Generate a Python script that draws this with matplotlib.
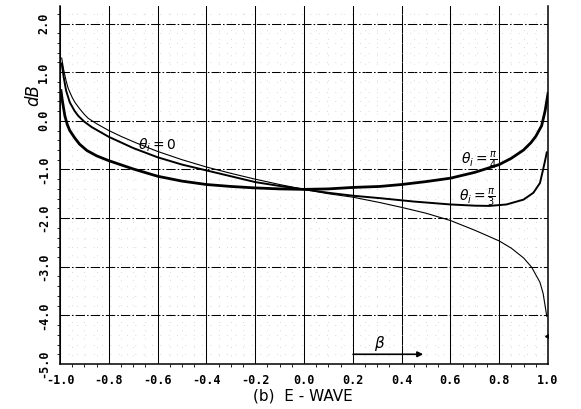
import matplotlib.pyplot as plt
from matplotlib.ticker import MultipleLocator

# beta values and dB values
a_x = [-0.993, -0.985, -0.975, -0.966, -0.95, -0.939, -0.92, -0.9, -0.884, -0.85, -0.8,
       -0.75, -0.69, -0.6, -0.5, -0.4, -0.3, -0.2, -0.1, 0.0, 0.1, 0.2, 0.31, 0.4,
       0.5, 0.6, 0.7, 0.8, 0.85, 0.9, 0.933, 0.967, 0.98, 0.988, 0.995]
a_y = [1.29, 1.05, 0.82, 0.66, 0.48, 0.38, 0.25, 0.13, 0.05, -0.06, -0.2,
       -0.32, -0.45, -0.63, -0.8, -0.95, -1.08, -1.2, -1.31, -1.41, -1.5, -1.57, -1.68, -1.78,
       -1.9, -2.05, -2.25, -2.47, -2.62, -2.82, -3.01, -3.32, -3.55, -3.8, -4.02]

b_x = [-0.993, -0.985, -0.975, -0.96, -0.94, -0.925, -0.9, -0.87, -0.8, -0.7, -0.6,
       -0.5, -0.4, -0.3, -0.2, -0.1, 0.0, 0.1, 0.2, 0.31, 0.45, 0.6, 0.7, 0.76, 0.83,
       0.9, 0.94, 0.967, 0.98, 0.988, 0.995]
b_y = [1.18, 0.9, 0.62, 0.38, 0.2, 0.1, -0.02, -0.13, -0.33, -0.56, -0.75,
       -0.9, -1.02, -1.14, -1.26, -1.34, -1.41, -1.48, -1.54, -1.59, -1.66, -1.72, -1.745, -1.75, -1.72,
       -1.62, -1.48, -1.28, -1.0, -0.82, -0.65]

c_x = [-0.996, -0.99, -0.98, -0.97, -0.96, -0.94, -0.92, -0.89, -0.85, -0.8, -0.7,
       -0.6, -0.5, -0.4, -0.3, -0.2, -0.1, 0.0, 0.1, 0.2, 0.31, 0.4, 0.5, 0.6, 0.7,
       0.8, 0.85, 0.9, 0.93, 0.95, 0.974, 0.988, 1.0]
c_y = [0.62, 0.4, 0.1, -0.08, -0.2, -0.35, -0.48, -0.61, -0.72, -0.82, -0.99,
       -1.14, -1.24, -1.31, -1.35, -1.38, -1.40, -1.41, -1.40, -1.37, -1.35, -1.31, -1.25, -1.18, -1.06,
       -0.9, -0.77, -0.6, -0.45, -0.32, -0.1, 0.2, 0.56]

x_ticks = [-1.0, -0.8, -0.6, -0.4, -0.2, 0.0, 0.2, 0.4, 0.6, 0.8, 1.0]
x_labels = ["-1.0", "-0.8", "-0.6", "-0.4", "-0.2", "0.0", "0.2", "0.4", "0.6", "0.8", "1.0"]
y_ticks = [-5.0, -4.0, -3.0, -2.0, -1.0, 0.0, 1.0, 2.0]
y_labels = ["-5.0", "-4.0", "-3.0", "-2.0", "-1.0", "0.0", "1.0", "2.0"]

mark_x = [1.0]
mark_y = [-4.43]

fig = plt.figure(figsize=(5.81, 4.09), dpi=100)
ax = fig.add_axes([60/581, 1-364/409, 488/581, 358/409])

ax.set_xlim(-1.0, 1.0)
ax.set_ylim(-5.0, 2.36)

# grids: solid verticals, dash-dot horizontals, sparse dots for minor
ax.xaxis.set_minor_locator(MultipleLocator(0.05))
ax.yaxis.set_minor_locator(MultipleLocator(0.2))
ax.grid(which="minor", color="0.7", linestyle=(0, (1, 11)), lw=0.5)
for xv in x_ticks:
    ax.axvline(xv, color="black", lw=0.75, zorder=1)
for yv in y_ticks:
    ax.axhline(yv, color="black", lw=0.75, linestyle=(0, (9, 2, 1.5, 2)), zorder=1)

ax.plot(a_x, a_y, color="black", lw=0.8, zorder=3)
ax.plot(b_x, b_y, color="black", lw=1.4, zorder=3)
ax.plot(c_x, c_y, color="black", lw=2.0, zorder=3)
ax.plot(mark_x, mark_y, "<", color="black", ms=4, zorder=4)

ax.text(-0.60, -0.50, r"$\theta_i = 0$", fontsize=10, ha="center", va="center")
ax.text(0.72, -0.80, r"$\theta_i = \frac{\pi}{4}$", fontsize=10, ha="center", va="center")
ax.text(0.71, -1.57, r"$\theta_i = \frac{\pi}{3}$", fontsize=10, ha="center", va="center")

ax.annotate("", xy=(0.50, -4.80), xytext=(0.19, -4.80),
            arrowprops=dict(arrowstyle="-|>", color="black", lw=1.2, mutation_scale=8))
ax.text(0.31, -4.58, r"$\beta$", fontsize=11, ha="center", va="center")

ax.set_xticks(x_ticks)
ax.set_xticklabels(x_labels, family="DejaVu Sans Mono", fontsize=8.5, fontweight="bold")
ax.set_yticks(y_ticks)
ax.set_yticklabels(y_labels, family="DejaVu Sans Mono", fontsize=8.5, fontweight="bold",
                   rotation=90, va="center")
ax.tick_params(length=0, pad=7)

for s in ["left", "bottom", "right"]:
    ax.spines[s].set_linewidth(1.1)
ax.spines["top"].set_visible(False)

fig.text(33/581, 1-95/409, "dB", rotation=90, fontsize=12, style="italic",
         ha="center", va="center")
fig.text(303/581, 1-396/409, "(b)  E - WAVE", fontsize=11, ha="center", va="center")

plt.savefig("out.png", dpi=100)
